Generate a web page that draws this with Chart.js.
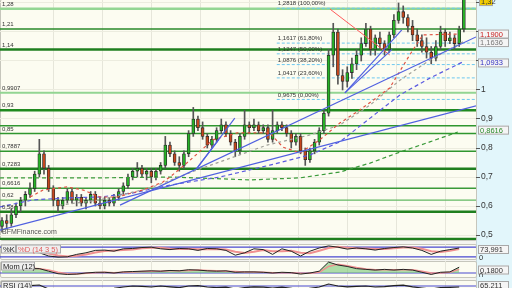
<!DOCTYPE html>
<html><head><meta charset="utf-8">
<script src="https://cdn.jsdelivr.net/npm/chart.js@4.4.1/dist/chart.umd.min.js"></script>
<style>
html,body{margin:0;padding:0;width:512px;height:288px;overflow:hidden;background:#f4f4f0;font-family:"Liberation Sans",Arial,sans-serif}
#axisbg{position:absolute;left:476px;top:0;width:36px;height:288px;background:#e2f6fb;border-left:1px solid #c8d8dc}
.panel{position:absolute;left:0;width:475px;border:1px solid #c6c6bc;background:#fcfcf1;border-radius:2px;box-sizing:border-box}
canvas{position:absolute;left:0}
</style></head><body>
<div id="axisbg"></div>
<div class="panel" style="top:-1px;height:242px;width:477px"></div>
<div class="panel" style="top:244px;height:16px;width:477px"></div>
<div class="panel" style="top:261px;height:17px;width:477px"></div>
<div class="panel" style="top:280px;height:20px;width:477px"></div>
<canvas id="main" width="512" height="240" style="top:0"></canvas>
<canvas id="stoch" width="512" height="16" style="top:244px"></canvas>
<canvas id="mom" width="512" height="16" style="top:261px"></canvas>
<canvas id="rsi" width="512" height="20" style="top:280px"></canvas>
<script>
// ---------- data ----------
const xMin = -0.43, xMax = 101.6;
const gridX = [11.1, 21.6, 32.1, 42.6, 53.1, 63.6, 74.1, 84.6, 95.1];
const yTicks = [0.5, 0.6, 0.7, 0.8, 0.9, 1, 1.1, 1.2, 1.3];
const yTickLabels = ['0,5', '0,6', '0,7', '0,8', '0,9', '1', '', '', ''];

const opens = [0.53,0.55,0.54,0.57,0.60,0.62,0.64,0.66,0.71,0.78,
0.73,0.66,0.62,0.60,0.62,0.65,0.62,0.63,0.61,0.62,
0.64,0.61,0.60,0.62,0.61,0.63,0.65,0.67,0.70,0.72,
0.73,0.71,0.72,0.70,0.72,0.74,0.81,0.78,0.75,0.74,
0.78,0.85,0.90,0.87,0.84,0.81,0.83,0.86,0.88,0.85,
0.82,0.79,0.84,0.88,0.87,0.88,0.86,0.87,0.83,0.86,
0.88,0.87,0.85,0.82,0.84,0.79,0.76,0.79,0.82,0.86,
0.92,1.12,1.20,1.05,1.03,1.06,1.09,1.12,1.16,1.21,
1.14,1.18,1.16,1.14,1.19,1.24,1.27,1.25,1.22,1.19,
1.17,1.15,1.13,1.11,1.15,1.20,1.17,1.18,1.16,1.21];
const closes = [0.55,0.54,0.57,0.60,0.62,0.64,0.66,0.71,0.78,0.73,
0.66,0.62,0.60,0.62,0.65,0.62,0.63,0.61,0.62,0.64,
0.61,0.60,0.62,0.61,0.63,0.65,0.67,0.70,0.72,0.73,
0.71,0.72,0.70,0.72,0.74,0.81,0.78,0.75,0.74,0.78,
0.85,0.90,0.87,0.84,0.81,0.83,0.86,0.88,0.85,0.82,
0.79,0.84,0.88,0.87,0.88,0.86,0.87,0.83,0.86,0.88,
0.87,0.85,0.82,0.84,0.79,0.76,0.79,0.82,0.86,0.92,
1.12,1.20,1.05,1.03,1.06,1.09,1.12,1.16,1.21,1.14,
1.18,1.16,1.14,1.19,1.24,1.27,1.25,1.22,1.19,1.17,
1.15,1.13,1.11,1.15,1.20,1.17,1.18,1.16,1.21,1.32];
const highs = [0.56,0.57,0.59,0.61,0.63,0.65,0.68,0.72,0.83,0.79,
0.74,0.67,0.63,0.63,0.66,0.66,0.64,0.64,0.63,0.65,
0.65,0.63,0.63,0.63,0.64,0.66,0.68,0.71,0.73,0.75,
0.74,0.73,0.73,0.73,0.75,0.84,0.82,0.79,0.77,0.79,
0.86,0.94,0.91,0.89,0.85,0.84,0.87,0.90,0.89,0.86,
0.83,0.85,0.93,0.89,0.90,0.89,0.88,0.88,0.93,0.89,
0.89,0.88,0.86,0.85,0.85,0.80,0.80,0.83,0.87,0.93,
1.14,1.23,1.21,1.07,1.08,1.11,1.14,1.18,1.23,1.22,
1.19,1.20,1.17,1.20,1.26,1.30,1.29,1.26,1.24,1.21,
1.19,1.18,1.15,1.17,1.22,1.21,1.20,1.19,1.22,1.34];
const lows = [0.51,0.52,0.53,0.56,0.58,0.60,0.63,0.65,0.70,0.71,
0.65,0.60,0.58,0.59,0.61,0.61,0.60,0.60,0.59,0.61,
0.60,0.59,0.59,0.60,0.60,0.62,0.64,0.66,0.69,0.70,
0.70,0.69,0.68,0.69,0.71,0.73,0.77,0.74,0.72,0.73,
0.77,0.84,0.86,0.83,0.80,0.80,0.82,0.85,0.84,0.81,
0.77,0.78,0.83,0.85,0.86,0.85,0.85,0.82,0.82,0.85,
0.86,0.84,0.80,0.81,0.78,0.74,0.75,0.78,0.81,0.85,
0.91,1.08,1.02,1.00,1.01,1.04,1.07,1.10,1.15,1.12,
1.12,1.14,1.12,1.13,1.18,1.23,1.23,1.20,1.17,1.15,
1.13,1.11,1.09,1.10,1.14,1.15,1.16,1.14,1.15,1.20];

// horizontal support / resistance levels
const levelValues = [1.28, 1.21, 1.14, 0.9907, 0.93, 0.877, 0.85, 0.7887, 0.7283, 0.6616, 0.62, 0.58, 0.486];
const levelLabels = ['1,28','1,21','1,14','0,9907','0,93','','0,85','0,7887','0,7283','0,6616','0,62','0,58',''];
const levelColors = ['#93d693','#2a8a2a','#1f7f1f','#92d592','#1f8a1f','#2f962f','#2f962f','#2f962f','#1f7f1f','#3a9a3a','#62b862','#1f7f1f','#1f7f1f'];
const levelWidths = [2.5,1.5,2.5,2,2.5,1.5,1.5,1.5,2.5,1.5,1.2,2.5,2.5];

// Fibonacci retracement
const fibStart = 58.9;
const fibValues = [1.2818, 1.1617, 1.1247, 1.0876, 1.0417, 0.9675];
const fibLabels = ['1,2818 (100,00%)','1,1617 (61,80%)','1,1247 (50,00%)','1,0876 (38,20%)','1,0417 (23,60%)','0,9675 (0,00%)'];

// moving averages (sparse points: candle index, value)
const maRedX = [6.0,8.8,13.9,17.4,21.0,24.6,30.2,34.5,36.0,39.6,45.2,50.4,57.4,60.2,63.9,68.1,72.4,76.7,83.1,87.4,90.2,98.1];
const maRedY = [0.631,0.655,0.666,0.655,0.631,0.631,0.655,0.683,0.70,0.748,0.828,0.852,0.852,0.803,0.783,0.828,0.886,0.931,1.007,1.121,1.19,1.193];
const maGrayX = [12.4,21.0,31.7,41.8,56.8,66.0,72.4,78.9,85.3,91.7,98.8];
const maGrayY = [0.603,0.621,0.662,0.724,0.810,0.845,0.879,0.948,1.034,1.103,1.166];
const maBlueX = [-0.43,6.6,13.9,21.0,28.1,36.0,46.7,57.4,66.0,72.4,78.9,85.3,91.7,98.8];
const maBlueY = [0.597,0.621,0.628,0.631,0.645,0.672,0.70,0.741,0.776,0.821,0.903,0.983,1.041,1.097];
const maGreenX = [-0.43,21.0,36.0,53.1,63.9,72.4,78.9,85.3,91.7,97.7];
const maGreenY = [0.697,0.697,0.70,0.69,0.697,0.717,0.748,0.786,0.821,0.855];

// trend lines [x1, y1, x2, y2]
const blueTrends = [[-0.43,0.517,101.6,0.945],[25.3,0.603,101.6,1.183],[41.8,0.731,49.9,0.903],[41.8,0.731,46.5,0.83],[73.5,0.99,85.7,1.207],[73.5,0.99,83.6,1.14]];
const redTrend = [70.3,1.279,83.1,1.121];

// right-axis value tags
const tagValues = [1.193, 1.1636, 1.0933, 0.8616];
const tagTexts = ['1,1900','1,1636','1,0933','0,8616'];
const tagColors = ['#c82020','#777777','#3030c0','#2a8a2a'];
const lastPrice = 1.305, lastText = '1,32';

// indicators (every second candle)
const indX = [0,2,4,6,8,10,12,14,16,18,20,22,24,26,28,30,32,34,36,38,40,42,44,46,48,50,52,54,56,58,60,62,64,66,68,70,72,74,76,78,80,82,84,86,88,90,92,94,96,98];
const stochK = [50,55,60,50,45,25,18,20,35,45,60,62,55,70,72,78,80,70,65,72,70,60,72,70,60,30,45,70,65,35,70,55,25,55,75,88,80,68,75,70,62,72,78,82,75,60,35,55,65,75];
const stochD = [48,52,56,55,50,40,28,22,26,35,47,56,59,62,66,73,77,76,71,69,70,67,67,68,66,52,44,52,62,55,55,58,45,42,58,75,82,77,73,72,68,68,73,78,78,70,55,50,57,68];
const momV = [0.15,0.17,0.15,0.12,0.12,0.05,-0.02,-0.04,-0.03,0.0,0.02,0.02,0.0,0.03,0.04,0.05,0.06,0.05,0.07,0.06,0.09,0.08,0.06,0.05,0.06,0.02,0.03,0.03,0.02,0.0,0.02,0.01,-0.03,0.0,0.05,0.30,0.22,0.18,0.12,0.10,0.08,0.10,0.08,0.10,0.08,0.02,-0.04,0.02,0.03,0.16];
const momSig = [0.13,0.15,0.16,0.14,0.12,0.08,0.02,-0.02,-0.03,-0.01,0.01,0.02,0.01,0.02,0.03,0.04,0.05,0.05,0.06,0.06,0.07,0.08,0.07,0.06,0.05,0.04,0.03,0.03,0.02,0.01,0.01,0.01,-0.01,-0.01,0.02,0.18,0.24,0.20,0.15,0.11,0.09,0.09,0.09,0.09,0.09,0.05,0.0,0.0,0.02,0.10];
const rsiV = [60,65,70,72,75,55,45,50,52,55,50,55,58,65,70,68,65,70,66,62,70,72,65,62,64,55,62,66,64,60,64,58,50,58,65,80,70,66,68,70,65,67,72,74,66,60,55,62,63,65];

// ---------- helpers ----------
const FONT = '"Liberation Sans", Arial, sans-serif';
const pts = (xs, ys) => xs.map((x, i) => ({x, y: ys[i]}));
const seg = (t) => [{x: t[0], y: t[1]}, {x: t[2], y: t[3]}];
const lineDs = (data, color, width, dash, order) => ({type: 'line', data, borderColor: color, borderWidth: width, borderDash: dash || [], pointRadius: 0, tension: 0, fill: false, order});
const noPad = s => { s.paddingTop = 0; s.paddingBottom = 0; s.paddingLeft = 0; s.paddingRight = 0; };
const xScale = () => ({
  type: 'linear', min: xMin, max: xMax, offset: false,
  ticks: {display: false}, border: {display: false},
  grid: {color: '#e6e6da', drawTicks: false, offset: false},
  afterBuildTicks: s => { s.ticks = gridX.map(v => ({value: v})); },
  afterFit: s => { s.height = 0; noPad(s); }
});
function tag(ctx, x, yc, w, text, color, fill) {
  ctx.fillStyle = fill || '#f5f5f5';
  ctx.fillRect(x, yc - 4.5, w, 9);
  ctx.strokeStyle = '#a8a8a8'; ctx.lineWidth = 1;
  ctx.strokeRect(x + 0.5, yc - 4, w - 1, 8);
  ctx.fillStyle = color; ctx.textBaseline = 'middle';
  ctx.fillText(text, x + 2, yc + 0.5);
}

// ---------- main chart ----------
const upC = '#27b227', dnC = '#c4471e';
const datasets = [];
blueTrends.forEach(t => datasets.push(lineDs(seg(t), '#5060e0', 1.2, [], 1)));
datasets.push(lineDs(seg(redTrend), '#ff5a5a', 1, [], 1));
datasets.push(lineDs(pts(maRedX, maRedY), '#e05040', 1.2, [3, 3], 2));
datasets.push(lineDs(pts(maGrayX, maGrayY), '#a0a098', 1.2, [3, 3], 2));
datasets.push(lineDs(pts(maBlueX, maBlueY), '#5a5ae0', 1.2, [4, 3], 2));
datasets.push(lineDs(pts(maGreenX, maGreenY), '#3a9a3a', 1.2, [4, 3], 2));
datasets.push({type: 'bar', data: closes.map((c, i) => ({x: i, y: [opens[i], c]})),
  backgroundColor: closes.map((c, i) => c >= opens[i] ? upC : dnC),
  borderColor: '#2a2a2a', borderWidth: 0.8, borderSkipped: false, barThickness: 3, grouped: false, order: 3});
datasets.push({type: 'bar', data: highs.map((h, i) => ({x: i, y: [lows[i], h]})),
  backgroundColor: '#555', borderWidth: 0, barThickness: 1, grouped: false, order: 4});
fibValues.forEach(v => datasets.push(lineDs([{x: fibStart, y: v}, {x: xMax, y: v}], '#6cc8f0', 1, [3, 2], 5)));
levelValues.forEach((v, i) => datasets.push(lineDs([{x: xMin, y: v}, {x: xMax, y: v}], levelColors[i], levelWidths[i], [], 6)));

const mainText = {
  id: 'mainText',
  afterDraw(chart) {
    const {ctx, scales: {x, y}} = chart;
    ctx.save();
    ctx.font = '6px ' + FONT; ctx.fillStyle = '#333'; ctx.textBaseline = 'bottom';
    levelValues.forEach((v, i) => { if (levelLabels[i]) ctx.fillText(levelLabels[i], 2, y.getPixelForValue(v) - 1.5); });
    const fx = x.getPixelForValue(fibStart) + 1;
    fibValues.forEach((v, i) => { ctx.fillText(fibLabels[i], fx, y.getPixelForValue(v) - 1.5); });
    ctx.font = '7px ' + FONT; ctx.fillStyle = '#555'; ctx.textBaseline = 'middle';
    ctx.fillText('BFMFinance.com', 2, 232);
    ctx.font = '7.5px ' + FONT;
    tagValues.forEach((v, i) => tag(ctx, 478, y.getPixelForValue(v), 31, tagTexts[i], tagColors[i]));
    tag(ctx, 479, y.getPixelForValue(lastPrice), 14, lastText, '#333', '#f2cc00');
    ctx.restore();
  }
};

new Chart(document.getElementById('main'), {
  type: 'bar',
  data: {datasets},
  options: {
    responsive: false, animation: false, events: [],
    layout: {padding: 0, autoPadding: false},
    plugins: {legend: {display: false}, tooltip: {enabled: false}},
    scales: {
      x: xScale(),
      y: {
        type: 'linear', position: 'right', min: 0.4828, max: 1.3103,
        afterBuildTicks: s => { s.ticks = yTicks.map(v => ({value: v})); },
        afterFit: s => { s.width = 36; noPad(s); },
        border: {display: false},
        grid: {color: '#ececdf', tickColor: '#555', tickLength: 4, drawTicks: true},
        ticks: {color: '#333', padding: 1, font: {size: 8.5, family: FONT}, callback: (v, i) => yTickLabels[i]}
      }
    }
  },
  plugins: [mainText]
});

// ---------- sub panels ----------
function panel(id, dsets, ymin, ymax, drawLabels) {
  new Chart(document.getElementById(id), {
    type: 'line',
    data: {datasets: dsets},
    options: {
      responsive: false, animation: false, events: [],
      layout: {padding: {right: 36}, autoPadding: false},
      plugins: {legend: {display: false}, tooltip: {enabled: false}},
      scales: {x: xScale(), y: {type: 'linear', min: ymin, max: ymax, display: false}}
    },
    plugins: [{id: id + 'lbl', afterDraw(chart) { const c = chart.ctx; c.save(); drawLabels(c); c.restore(); }}]
  });
}
const hl = (v, color) => lineDs([{x: xMin, y: v}, {x: xMax, y: v}], color, 1.2, [], 5);

panel('stoch', [
  lineDs(pts(indX, stochK), '#222', 1, [], 1),
  lineDs(pts(indX, stochD), '#f09090', 2, [], 2),
  hl(80, '#4848d0'), hl(20, '#4848d0')
], 0, 100, c => {
  c.font = '7.5px ' + FONT;
  tag(c, 1, 5, 15, '%K', '#222', '#efefef');
  tag(c, 16, 5, 45, '%D (14 3 5)', '#e05a5a', '#efefef');
  tag(c, 478, 5.5, 31, '73,991', '#333', '#f5f5f5');
  c.fillStyle = '#333'; c.fillText('0', 479, 13.5);
});

panel('mom', [
  lineDs(pts(indX, momV), '#222', 1, [], 1),
  lineDs(pts(indX, momSig), '#f09090', 1.5, [], 2),
  Object.assign(lineDs(pts(indX, momV), 'rgba(0,0,0,0)', 0, [], 3), {fill: {target: {value: 0}, above: 'rgba(120,200,120,0.6)', below: 'rgba(240,150,150,0.35)'}}),
  hl(0, '#4848d0')
], -0.11, 0.33, c => {
  c.font = '7.5px ' + FONT;
  tag(c, 1, 5, 34, 'Mom (12)', '#222', '#efefef');
  tag(c, 478, 9, 31, '0,1800', '#333', '#f5f5f5');
  c.fillStyle = '#333'; c.fillText('0', 479, 15);
});

panel('rsi', [
  lineDs(pts(indX, rsiV), '#222', 1.2, [], 1),
  hl(70, '#4848d0'), hl(30, '#4848d0')
], 0, 100, c => {
  c.font = '7.5px ' + FONT;
  tag(c, 1, 5.5, 31, 'RSI (14)', '#222', '#efefef');
  tag(c, 478, 5.5, 31, '65,211', '#333', '#f5f5f5');
});
</script>
</body></html>
